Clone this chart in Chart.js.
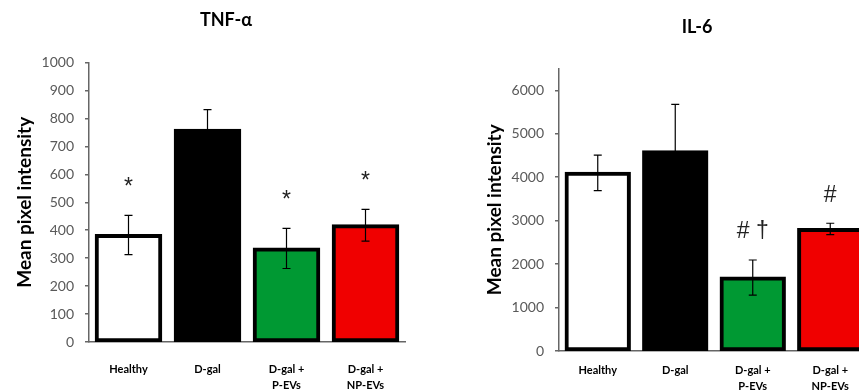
<!DOCTYPE html>
<html>
<head>
<meta charset="utf-8">
<script src="https://cdn.jsdelivr.net/npm/chart.js@4.4.1/dist/chart.umd.min.js"></script>
<style>
  html, body { margin: 0; padding: 0; background: #fff; overflow: hidden; width: 859px; height: 390px; }
  canvas { position: absolute; top: 0; }
</style>
</head>
<body>
<canvas id="tnf" width="452" height="390" style="left:0"></canvas>
<canvas id="il6" width="534" height="390" style="left:430px"></canvas>
<script>
const groups = [['Healthy'], ['D-gal'], ['D-gal +', 'P-EVs'], ['D-gal +', 'NP-EVs']];
const barColors = ['#ffffff', '#000000', '#009933', '#f00000'];

const tnfMeans = [383, 760, 335, 418];
const tnfErrors = [70, 72, 72, 57];
const tnfMarks = ['*', '', '*', '*'];
const tnfTicks = [0, 100, 200, 300, 400, 500, 600, 700, 800, 900, 1000];

const il6Means = [4100, 4600, 1690, 2810];
const il6Errors = [410, 1075, 405, 130];
const il6Marks = ['', '', '# \u2020', '#'];
const il6Ticks = [0, 1000, 2000, 3000, 4000, 5000, 6000];

const FONT = 'Lato, "Liberation Sans", sans-serif';

// error bars + significance marks, drawn on top of the bars
const errorBars = {
  id: 'errorBars',
  afterDatasetsDraw(chart, args, opts) {
    const ctx = chart.ctx;
    const y = chart.scales.y;
    const means = chart.data.datasets[0].data;
    chart.getDatasetMeta(0).data.forEach((bar, i) => {
      const hi = y.getPixelForValue(means[i] + opts.errors[i]);
      const lo = y.getPixelForValue(means[i] - opts.errors[i]);
      ctx.save();
      ctx.strokeStyle = '#000';
      ctx.lineWidth = 1.2;
      ctx.beginPath();
      ctx.moveTo(bar.x, hi); ctx.lineTo(bar.x, lo);
      ctx.moveTo(bar.x - 4, hi); ctx.lineTo(bar.x + 4, hi);
      ctx.moveTo(bar.x - 4, lo); ctx.lineTo(bar.x + 4, lo);
      ctx.stroke();
      if (opts.marks[i]) {
        ctx.fillStyle = '#222';
        ctx.font = '23px "Liberation Sans", sans-serif';
        ctx.textAlign = 'center';
        ctx.textBaseline = 'middle';
        ctx.fillText(opts.marks[i], bar.x, hi - 28);
      }
      ctx.restore();
    });
  }
};

function makeChart(id, title, means, errors, marks, tickValues, cfg) {
  return new Chart(document.getElementById(id), {
    type: 'bar',
    data: {
      labels: groups,
      datasets: [{
        data: means,
        backgroundColor: barColors,
        borderColor: '#000',
        borderWidth: 4,
        inflateAmount: 1,
        borderSkipped: false,
        categoryPercentage: 1,
        barPercentage: 0.83
      }]
    },
    options: {
      responsive: false,
      animation: false,
      layout: { padding: 0 },
      plugins: {
        legend: { display: false },
        tooltip: { enabled: false },
        title: {
          display: true,
          text: title,
          color: '#000',
          font: { family: FONT, size: 18, weight: 'bold' },
          padding: { top: cfg.titleTop, bottom: cfg.titleBottom }
        },
        errorBars: { errors, marks }
      },
      scales: {
        x: {
          grid: { display: false },
          border: { color: '#666', width: 1.5 },
          ticks: { color: '#000', font: { family: FONT, size: 11, weight: 'bold', lineHeight: 1.4 }, padding: cfg.xPad, maxRotation: 0 },
          afterFit(s) { s.height = cfg.xHeight; }
        },
        y: {
          min: 0,
          max: cfg.max,
          afterBuildTicks(s) { s.ticks = tickValues.map(v => ({ value: v })); },
          ticks: { color: '#595959', font: { family: FONT, size: 14 }, padding: 11, callback: v => String(v) },
          grid: { drawOnChartArea: false, drawTicks: true, tickLength: 4, color: '#666', lineWidth: 1.5 },
          border: { color: '#666', width: 1.5 },
          title: {
            display: true,
            text: 'Mean pixel intensity',
            color: '#000',
            font: { family: FONT, size: 19, weight: 'bold' },
            padding: { top: cfg.yTitlePad, bottom: 0 }
          },
          afterFit(s) { s.width = cfg.yWidth; }
        },
        // empty spacer on the right so the title stays centred on the whole canvas
        spacer: {
          type: 'linear',
          position: 'right',
          grid: { display: false },
          border: { display: false },
          ticks: { display: false },
          afterFit(s) { s.width = cfg.spacer; }
        }
      }
    },
    plugins: [errorBars]
  });
}

makeChart('tnf', 'TNF-\u03b1', tnfMeans, tnfErrors, tnfMarks, tnfTicks,
  { max: 1000, spacer: 47, titleTop: 9, titleBottom: 32, xPad: 12, xHeight: 48, yWidth: 89, yTitlePad: 13 });
makeChart('il6', 'IL-6', il6Means, il6Errors, il6Marks, il6Ticks,
  { max: 6500, spacer: 95, titleTop: 16, titleBottom: 31, xPad: 4, xHeight: 39, yWidth: 129, yTitlePad: 53 });
</script>
</body>
</html>
